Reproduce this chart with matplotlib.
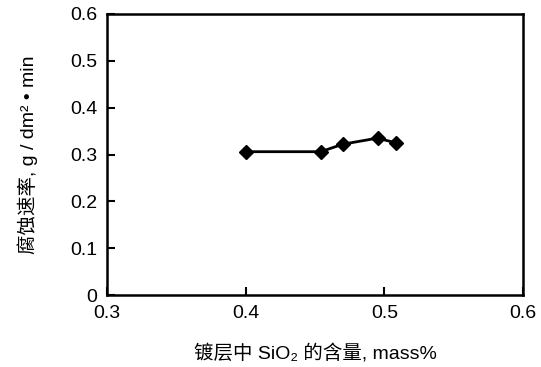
import matplotlib
matplotlib.use("Agg")
import matplotlib.pyplot as plt

# SiO2 content in coating (mass%) vs corrosion rate
sio2 = [0.400, 0.454, 0.470, 0.495, 0.508]
rate = [0.306, 0.306, 0.322, 0.335, 0.325]

xticks = [0.3, 0.4, 0.5, 0.6]
yticks = [0, 0.1, 0.2, 0.3, 0.4, 0.5, 0.6]
ytick_labels = ["0", "0.1", "0.2", "0.3", "0.4", "0.5", "0.6"]

plt.rcParams['font.family'] = ['Liberation Sans', 'Noto Sans CJK SC', 'DejaVu Sans']

fig = plt.figure(figsize=(5.41, 3.67), dpi=100)
ax = fig.add_axes([0.198, 0.196, 0.769, 0.766])

ax.plot(sio2, rate, color='black', lw=2, marker='D', ms=7.5,
        markerfacecolor='black', markeredgecolor='black')

ax.set_xlim(0.3, 0.6)
ax.set_ylim(0, 0.6)
ax.set_xticks(xticks)
ax.set_xticklabels(["0.3", "0.4", "0.5", "0.6"])
ax.set_yticks(yticks)
ax.set_yticklabels(ytick_labels)
ax.tick_params(direction='in', length=6, width=1.5, labelsize=14, pad=7)
for s in ax.spines.values():
    s.set_linewidth(1.8)

ax.set_xlabel("镀层中 SiO₂ 的含量, mass%", fontsize=14, labelpad=16)
ax.set_ylabel("腐蚀速率, g / dm² • min", fontsize=14, labelpad=23)

fig.savefig("out.png", dpi=100)
